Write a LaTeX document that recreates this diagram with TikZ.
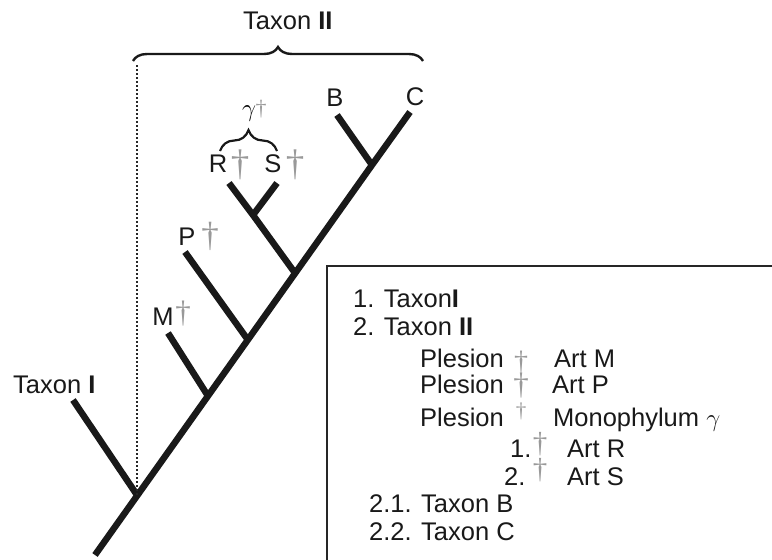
\documentclass[tikz,border=0pt]{standalone}
\usepackage{fontspec}
\setmainfont{Liberation Sans}
\newfontfamily\lmdag{Liberation Serif}
\usetikzlibrary{decorations.pathreplacing}
\newcommand{\fs}[1]{\fontsize{#1}{#1}\selectfont}
\begin{document}
\begin{tikzpicture}[x=1pt,y=-1pt,
  branch/.style={line width=6.5pt, black!90},
  lab/.style={inner sep=0pt, anchor=base west, font=\fs{25.5}, text=black!90},
  clab/.style={inner sep=0pt, anchor=base, font=\fs{25.5}, text=black!90},
  dag/.style={inner sep=0pt, anchor=center, text=black!40},
  bigbrace/.style={decorate, decoration={brace, amplitude=#1}, line width=2.4pt, black!90},
  boxline/.style={line width=1.6pt, black!85}]
\useasboundingbox (0,0) rectangle (772,560);
% tree coordinates
\coordinate (root) at (95,555);
\coordinate (jI) at (137,495);
\coordinate (jM) at (208,396);
\coordinate (jP) at (248,340);
\coordinate (jG) at (295,273);
\coordinate (jBC) at (372,165);
\coordinate (tC) at (410,112);
\coordinate (tB) at (337,115);
\coordinate (tI) at (73,400);
\coordinate (tM) at (168,333);
\coordinate (tP) at (185,252);
\coordinate (jRS) at (253,215);
\coordinate (tR) at (229,183);
\coordinate (tS) at (277,183);
\coordinate (dtop) at (137,65);
\coordinate (bL) at (133,61);
\coordinate (bR) at (423,61);
\coordinate (sL) at (220,151);
\coordinate (sR) at (277,151);
\coordinate (boxTR) at (772,266);
\coordinate (boxTL) at (327,266);
\coordinate (boxBL) at (327,560);
% branches
\draw[branch] (root) -- (jBC) -- (tC);
\draw[branch] (jBC) -- (tB);
\draw[branch] (jI) -- (tI);
\draw[branch] (jM) -- (tM);
\draw[branch] (jP) -- (tP);
\draw[branch] (jG) -- (jRS) -- (tR);
\draw[branch] (jRS) -- (tS);
% dotted line
\draw[line width=1.6pt, black!85, dash pattern=on 2pt off 2pt] (dtop) -- (jI);
% braces
\draw[bigbrace=14pt] (bL) -- (bR);
\draw[bigbrace=21pt, line width=2.2pt] (sL) -- (sR);
% labels on tree
\node[lab] (lTII) at (243,29) {Taxon \textbf{II}};
\node[clab] (lB) at (335,106) {B};
\node[clab] (lC) at (415,105) {C};
\node[clab] (lR) at (218,172) {R};
\node[dag, font=\lmdag\fs{37}] (dR) at (240,165) {†};
\node[clab] (lS) at (273,172) {S};
\node[dag, font=\lmdag\fs{37}] (dS) at (295,165) {†};
\node[inner sep=0pt, font=\fs{24}] (lg) at (249,114) {$\gamma$};
\node[dag, font=\lmdag\fs{22}] (dg) at (261,109) {†};
\node[clab] (lP) at (187,245) {P};
\node[dag, font=\lmdag\fs{35}] (dP) at (210,236) {†};
\node[clab] (lM) at (163,325) {M};
\node[dag, font=\lmdag\fs{31}] (dM) at (183,314) {†};
\node[lab] (lTI) at (13,393) {Taxon \textbf{I}};
% box
\draw[boxline] (boxTR) -- (boxTL) -- (boxBL);
\node[lab] (t1) at (353,307) {1. Taxon\textbf{I}};
\node[lab] (t2) at (353,335) {2. Taxon \textbf{II}};
\node[lab] (t3a) at (420,367) {Plesion};
\node[dag, font=\lmdag\fs{28}] (t3d) at (521,362) {†};
\node[lab] (t3b) at (554,367) {Art M};
\node[lab] (t4a) at (420,393) {Plesion};
\node[dag, font=\lmdag\fs{31}] (t4d) at (521,386) {†};
\node[lab] (t4b) at (552,393) {Art P};
\node[lab] (t5a) at (420,426) {Plesion};
\node[dag, font=\lmdag\fs{21}] (t5d) at (521,411) {†};
\node[lab] (t5b) at (553,426) {Monophylum {\fs{24}$\gamma$}};
\node[lab] (t6a) at (510,457) {1.};
\node[dag, font=\lmdag\fs{29}] (t6d) at (540,444) {†};
\node[lab] (t6b) at (567,457) {Art R};
\node[lab] (t7a) at (504,485) {2.};
\node[dag, font=\lmdag\fs{29}] (t7d) at (540,470) {†};
\node[lab] (t7b) at (567,485) {Art S};
\node[lab] (t8) at (369,512) {2.1. Taxon B};
\node[lab] (t9) at (369,540) {2.2. Taxon C};
\end{tikzpicture}
\end{document}
